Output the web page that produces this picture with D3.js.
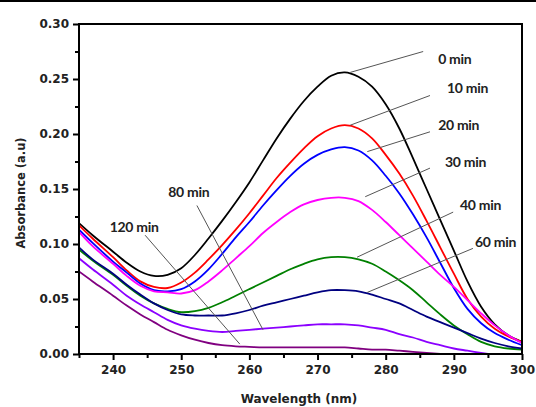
<!DOCTYPE html>
<html>
<head>
<meta charset="utf-8">
<script src="https://cdn.jsdelivr.net/npm/d3@7/dist/d3.min.js"></script>
<style>
  body { margin: 0; background: #fff; }
  svg { display: block; }
  .tick text { font-family: "DejaVu Sans", sans-serif; font-weight: bold; font-size: 12px; fill: #222; }
  .lbl { font-family: Lato, "Open Sans", sans-serif; font-weight: bold; font-size: 14px; fill: #222; letter-spacing: -0.3px; }
</style>
</head>
<body>
<script>
// Data
const wavelength = [235, 237, 240, 242, 244, 246, 248, 250, 252, 254, 256, 258, 260, 262, 264, 266, 268,
  270, 272, 274, 276, 278, 280, 282, 284, 286, 288, 290, 292, 294, 296, 298, 300];

const min0 = [0.119, 0.108, 0.093, 0.083, 0.075, 0.071, 0.072, 0.078, 0.090, 0.105, 0.121, 0.138, 0.156, 0.176, 0.196, 0.214, 0.230,
  0.243, 0.253, 0.256, 0.252, 0.243, 0.227, 0.205, 0.178, 0.150, 0.122, 0.094, 0.066, 0.043, 0.027, 0.017, 0.011];
const min10 = [0.117, 0.105, 0.088, 0.076, 0.066, 0.061, 0.060, 0.065, 0.074, 0.086, 0.099, 0.113, 0.128, 0.144, 0.160, 0.174, 0.187,
  0.198, 0.205, 0.208, 0.205, 0.196, 0.181, 0.164, 0.144, 0.121, 0.097, 0.073, 0.050, 0.034, 0.023, 0.016, 0.011];
const min20 = [0.113, 0.101, 0.084, 0.074, 0.064, 0.058, 0.057, 0.059, 0.066, 0.077, 0.091, 0.106, 0.120, 0.135, 0.149, 0.162, 0.173,
  0.181, 0.186, 0.188, 0.185, 0.176, 0.162, 0.146, 0.127, 0.106, 0.083, 0.060, 0.041, 0.028, 0.019, 0.013, 0.008];
const min30 = [0.111, 0.098, 0.082, 0.071, 0.062, 0.057, 0.056, 0.055, 0.058, 0.066, 0.076, 0.087, 0.098, 0.110, 0.120, 0.129, 0.136,
  0.140, 0.142, 0.142, 0.139, 0.131, 0.120, 0.108, 0.096, 0.084, 0.072, 0.061, 0.049, 0.037, 0.026, 0.017, 0.010];
const min40 = [0.095, 0.085, 0.072, 0.062, 0.053, 0.046, 0.041, 0.038, 0.039, 0.042, 0.047, 0.053, 0.059, 0.065, 0.071, 0.077, 0.082,
  0.086, 0.088, 0.088, 0.086, 0.082, 0.075, 0.067, 0.058, 0.047, 0.036, 0.026, 0.018, 0.011, 0.007, 0.005, 0.004];
const min60 = [0.097, 0.086, 0.073, 0.063, 0.054, 0.046, 0.040, 0.036, 0.035, 0.035, 0.035, 0.037, 0.040, 0.044, 0.047, 0.050, 0.053,
  0.056, 0.058, 0.058, 0.057, 0.054, 0.050, 0.046, 0.040, 0.034, 0.029, 0.024, 0.019, 0.014, 0.010, 0.007, 0.005];
const min80 = [0.087, 0.077, 0.063, 0.053, 0.045, 0.038, 0.031, 0.026, 0.023, 0.021, 0.020, 0.021, 0.022, 0.023, 0.024, 0.025, 0.026,
  0.027, 0.027, 0.027, 0.026, 0.024, 0.022, 0.018, 0.015, 0.011, 0.008, 0.005, 0.003, 0.001, -0.001, -0.003, -0.005];
const min120 = [0.075, 0.066, 0.053, 0.044, 0.036, 0.029, 0.022, 0.017, 0.013, 0.010, 0.008, 0.007, 0.0065, 0.006, 0.006, 0.006, 0.006,
  0.006, 0.006, 0.006, 0.005, 0.004, 0.004, 0.003, 0.002, 0.001, 0.000, -0.001, -0.002, -0.003, -0.004, -0.005, -0.006];

const seriesNames = ["0 min", "10 min", "20 min", "30 min", "40 min", "60 min", "80 min", "120 min"];
const seriesValues = [min0, min10, min20, min30, min40, min60, min80, min120];
const seriesColors = ["#000000", "#ff0000", "#0000ff", "#ff00ff", "#008000", "#000080", "#8b00ff", "#800080"];

const yTicks = [0.00, 0.05, 0.10, 0.15, 0.20, 0.25, 0.30];
const xTicks = [240, 250, 260, 270, 280, 290, 300];

// label anchors and leader lines, in data units: [textX, textY, lineX1, lineY1, lineX2, lineY2]
const labelSpots = [
  [287.7, 0.264, 285.5, 0.275, 274.8, 0.256],
  [289.0, 0.237, 286.5, 0.235, 274.8, 0.208],
  [287.7, 0.204, 286.5, 0.202, 277.3, 0.184],
  [288.7, 0.170, 286.5, 0.169, 277.0, 0.143],
  [290.9, 0.131, 289.9, 0.129, 275.8, 0.088],
  [293.1, 0.097, 292.8, 0.096, 277.3, 0.056],
  [248.1, 0.143, 252.3, 0.135, 262.0, 0.022],
  [239.5, 0.111, 244.7, 0.108, 258.6, 0.009]
];

// Set up SVG
const W = 536, H = 407;
const margin = { top: 24, right: 15, bottom: 53, left: 79 };
const innerW = 522 - margin.left;
const innerH = 354 - margin.top;

const svg = d3.select("body").append("svg")
  .attr("width", W)
  .attr("height", H);

// thin bar at the very top of the picture
svg.append("rect").attr("x", 0).attr("y", 0).attr("width", W).attr("height", 2).attr("fill", "#000");

const g = svg.append("g").attr("transform", `translate(${margin.left},${margin.top})`);

const x = d3.scaleLinear().domain([235, 300]).range([0, innerW]);
const y = d3.scaleLinear().domain([0, 0.30]).range([innerH, 0]);

g.append("clipPath").attr("id", "clip")
  .append("rect").attr("width", innerW).attr("height", innerH);

// Curves
const line = d3.line()
  .x((d, i) => x(wavelength[i]))
  .y(d => y(d))
  .curve(d3.curveCatmullRom.alpha(0.5));

g.append("g").attr("clip-path", "url(#clip)")
  .selectAll("path")
  .data(seriesValues)
  .join("path")
  .attr("d", line)
  .attr("fill", "none")
  .attr("stroke", (d, i) => seriesColors[i])
  .attr("stroke-width", 1.8);

// Leader lines and labels
g.selectAll("line.lead")
  .data(labelSpots)
  .join("line")
  .attr("class", "lead")
  .attr("x1", d => x(d[2])).attr("y1", d => y(d[3]))
  .attr("x2", d => x(d[4])).attr("y2", d => y(d[5]))
  .attr("stroke", "#555")
  .attr("stroke-width", 1);

g.selectAll("text.lbl")
  .data(labelSpots)
  .join("text")
  .attr("class", "lbl")
  .attr("x", d => x(d[0]))
  .attr("y", d => y(d[1]))
  .text((d, i) => seriesNames[i]);

// Axes
const xAxis = g.append("g")
  .attr("transform", `translate(0,${innerH})`)
  .call(d3.axisBottom(x).tickValues(xTicks).tickSize(6).tickPadding(5).tickFormat(d3.format("d")));
const xMinor = g.append("g")
  .attr("transform", `translate(0,${innerH})`)
  .call(d3.axisBottom(x).tickValues(d3.range(235, 301, 5).filter(v => v % 10 !== 0)).tickSize(4).tickFormat(""));

const yAxis = g.append("g")
  .call(d3.axisLeft(y).tickValues(yTicks).tickSize(6).tickPadding(4).tickFormat(d3.format(".2f")));
const yMinor = g.append("g")
  .call(d3.axisLeft(y).tickValues([0.025, 0.075, 0.125, 0.175, 0.225, 0.275]).tickSize(4).tickFormat(""));

[xAxis, xMinor, yAxis, yMinor].forEach(a => {
  a.select(".domain").remove();
  a.selectAll(".tick line").attr("stroke", "#000").attr("stroke-width", 2);
});

// frame
g.append("rect")
  .attr("width", innerW).attr("height", innerH)
  .attr("fill", "none").attr("stroke", "#000").attr("stroke-width", 2);

// axis titles
svg.append("text")
  .attr("x", 299).attr("y", 403)
  .attr("text-anchor", "middle")
  .style("font-family", "DejaVu Sans, sans-serif").style("font-weight", "bold").style("font-size", "12px")
  .attr("fill", "#222")
  .text("Wavelength (nm)");

svg.append("text")
  .attr("transform", "translate(25,193) rotate(-90)")
  .attr("text-anchor", "middle")
  .style("font-family", "DejaVu Sans, sans-serif").style("font-weight", "bold").style("font-size", "11.5px")
  .attr("fill", "#222")
  .text("Absorbance (a.u)");
</script>
</body>
</html>
